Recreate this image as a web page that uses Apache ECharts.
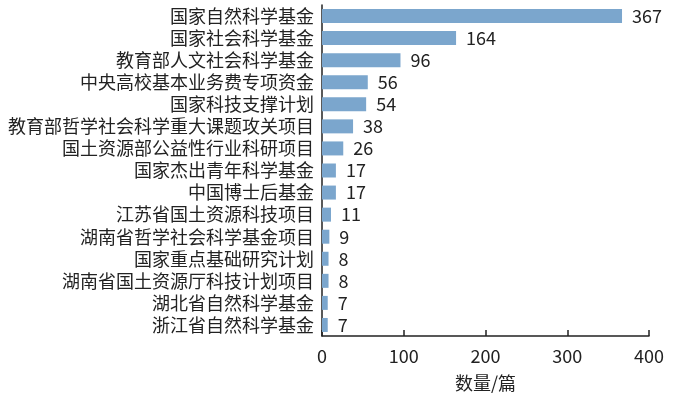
<!DOCTYPE html>
<html>
<head>
<meta charset="utf-8">
<script src="https://cdn.jsdelivr.net/npm/echarts@6/dist/echarts.min.js"></script>
<style>
html, body { margin: 0; padding: 0; background: #fff; }
#chart { width: 700px; height: 397px; }
</style>
</head>
<body>
<div id="chart"></div>
<script>
var categories = ['国家自然科学基金', '国家社会科学基金', '教育部人文社会科学基金', '中央高校基本业务费专项资金',
    '国家科技支撑计划', '教育部哲学社会科学重大课题攻关项目', '国土资源部公益性行业科研项目', '国家杰出青年科学基金',
    '中国博士后基金', '江苏省国土资源科技项目', '湖南省哲学社会科学基金项目', '国家重点基础研究计划',
    '湖南省国土资源厅科技计划项目', '湖北省自然科学基金', '浙江省自然科学基金'];
var counts = [367, 164, 96, 56, 54, 38, 26, 17, 17, 11, 9, 8, 8, 7, 7];
var xTicks = [0, 100, 200, 300, 400];

var font = '"Noto Sans CJK SC", "Noto Sans", sans-serif';
var myChart = echarts.init(document.getElementById('chart'));
var option = {
    animation: false,
    grid: {
        left: 322,
        right: 51,
        top: 5,
        bottom: 54
    },
    xAxis: {
        type: 'value',
        min: xTicks[0],
        max: xTicks[xTicks.length - 1],
        interval: 100,
        name: '数量/篇',
        nameLocation: 'middle',
        nameGap: 38,
        nameTextStyle: { fontFamily: font, fontSize: 18, color: '#222' },
        axisLine: { show: true, lineStyle: { color: '#222', width: 1.5 } },
        axisTick: { show: true, inside: true, length: 6, lineStyle: { color: '#222', width: 1.5 } },
        axisLabel: { fontFamily: font, fontSize: 18, color: '#222', margin: 11 },
        splitLine: { show: false }
    },
    yAxis: {
        type: 'category',
        data: categories,
        inverse: true,
        axisLine: { show: true, lineStyle: { color: '#222', width: 1.5 } },
        axisTick: { show: false },
        axisLabel: { fontFamily: font, fontSize: 18, color: '#222', margin: 8, interval: 0 }
    },
    series: [{
        type: 'bar',
        data: counts,
        barWidth: 14,
        itemStyle: { color: '#7ba6cd' },
        label: {
            show: true,
            position: 'right',
            distance: 10,
            fontFamily: font,
            fontSize: 18,
            color: '#222'
        }
    }]
};
myChart.setOption(option);
</script>
</body>
</html>
